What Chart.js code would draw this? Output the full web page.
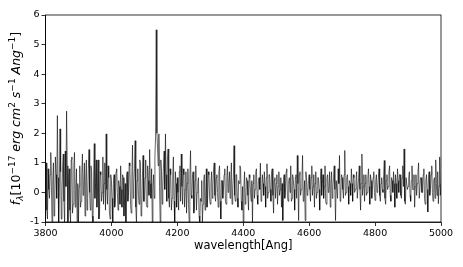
<!DOCTYPE html>
<html>
<head>
<meta charset="utf-8">
<script src="https://cdn.jsdelivr.net/npm/chart.js@4/dist/chart.umd.min.js"></script>
<style>
html,body{margin:0;padding:0;background:#fff;}
#wrap{width:463px;height:267px;}
</style>
</head>
<body>
<div id="wrap"><canvas id="c" width="463" height="267"></canvas></div>
<script>
// Sampling: each segment starts at its wavelength and is sampled every 2 Angstrom
const sampleStep = 2;
const segmentStarts = [3800, 3900, 4000, 4100, 4200, 4300, 4400, 4500, 4600, 4700, 4800, 4900];
// flux values (10^-17 erg cm^2 s^-1 Ang^-1)
const flux3800 = [0.3,1.0,-0.6,-0.9,0.8,0.1,-0.2,0.6,1.35,0.2,-1.1,0.4,1.0,-0.8,-0.5,1.2,0.6,-0.2,2.6,0.5,-1.1,0.3,2.15,0.7,-0.9,-0.1,0.9,1.3,-0.3,-1.1,1.4,0.2,2.75,0.9,-1.1,0.5,0.8,-0.6,-1.0,1.1,1.2,-0.7,-0.4,0.9,1.35,-0.5,0.1,0.8,-1.05,0.3];
const flux3900 = [-1.05,0.2,0.9,-0.5,-0.3,0.6,1.3,-0.1,0.2,1.0,-0.8,0.4,1.1,-0.6,-0.2,0.8,1.45,0.0,-0.6,0.9,0.7,-0.8,-1.05,0.5,1.65,-0.2,0.3,1.1,-0.5,0.2,1.1,-0.9,-0.7,0.7,0.6,-0.3,0.0,1.2,-0.4,0.3,1.0,-0.6,1.98,0.1,-0.4,0.9,0.5,-0.7,-0.9,0.6];
const flux4000 = [0.4,-0.2,-1.05,0.3,0.6,-0.5,-0.3,0.7,0.8,0.0,-0.6,0.4,0.2,-0.4,0.9,0.1,-0.5,0.6,0.5,-0.8,-0.2,0.3,-1.05,0.6,0.7,-0.3,0.0,1.0,0.9,-0.4,-0.7,0.5,1.6,-0.2,0.3,0.8,1.75,-0.5,-1.05,0.4,0.8,-0.1,-0.4,1.1,1.0,-0.8,-0.6,0.5,1.25,-0.3];
const flux4100 = [-0.3,0.5,1.1,-0.4,-0.5,0.9,0.4,-0.1,1.45,0.3,-0.2,0.8,-1.0,0.2,0.6,-0.2,1.2,1.9,5.5,2.0,1.5,0.9,1.98,0.2,-1.0,1.1,0.7,-0.4,0.2,0.9,1.4,0.1,1.98,0.6,-0.3,1.1,1.47,-0.2,-0.5,0.8,0.6,-0.6,-0.2,0.5,1.2,-0.3,-1.0,0.7,0.3,-0.5];
const flux4200 = [0.5,0.0,-0.6,0.7,0.9,-0.3,1.3,0.2,-0.4,0.8,0.6,-0.5,0.1,0.7,-0.7,0.3,0.8,-0.4,-1.0,0.5,1.41,-0.1,-0.2,0.6,0.7,-0.7,-0.5,0.4,0.9,-0.6,0.0,0.3,0.5,-0.8,-1.05,-0.2,-0.3,0.4,-1.0,-0.4,0.4,0.6,-0.6,-0.1,0.8,-0.5,-0.2,0.7,0.6,-0.2];
const flux4300 = [-0.4,0.3,0.7,-0.2,0.2,0.8,1.0,-0.1,-0.3,0.5,0.6,0.0,-0.5,0.7,0.9,-0.3,-0.9,0.4,0.4,-0.2,0.1,0.6,0.8,-0.3,-0.4,0.5,0.9,0.0,0.3,0.7,-0.2,0.4,1.0,-0.4,0.1,0.5,1.58,-0.1,-0.3,0.6,0.6,-0.2,-0.5,0.4,0.3,0.9,0.8,-0.3,-0.6,0.2];
const flux4400 = [-1.0,0.2,0.7,-0.4,-0.2,0.5,0.4,-0.1,-0.6,0.6,0.5,0.0,-0.3,0.4,-1.0,0.3,0.6,-0.2,0.1,0.7,0.8,-0.1,-0.4,0.4,0.5,0.1,0.99,-0.3,-0.2,0.6,0.3,-0.1,0.7,0.2,-0.5,0.5,0.97,-0.2,0.0,0.6,0.6,0.1,-0.3,0.7,0.8,-0.1,-0.7,0.4,0.5,-0.2];
const flux4500 = [0.3,0.6,-0.4,0.2,0.7,-0.1,0.1,0.5,-0.5,0.3,-0.95,0.4,0.6,-0.2,0.0,0.7,0.8,-0.1,-0.3,0.4,0.5,0.0,0.9,-0.3,-0.2,0.6,0.4,0.1,-0.6,0.5,0.6,-0.2,1.25,0.3,-0.95,0.6,0.7,-0.1,0.1,0.5,1.25,-0.3,-0.2,0.4,-0.95,0.7,0.5,-0.1,0.0,0.4];
const flux4600 = [0.6,0.1,-0.3,0.5,0.9,-0.1,0.2,0.6,-0.5,0.3,0.7,-0.2,0.0,0.5,0.5,0.1,-0.6,0.4,0.8,-0.1,0.3,0.6,-0.2,0.2,0.9,-0.3,-0.4,0.5,0.6,0.0,0.1,0.7,-0.5,0.3,0.7,-0.2,0.2,0.5,0.9,0.1,-0.95,0.4,0.4,-0.2,0.8,0.3,1.25,-0.3,-0.1,0.6];
const flux4700 = [0.5,0.1,-0.2,0.6,1.42,-0.1,0.0,0.5,0.6,0.2,-0.4,0.4,0.3,-0.1,0.8,0.3,-0.3,0.6,0.5,0.0,0.1,0.4,0.7,-0.2,-0.2,0.5,0.9,0.1,-0.6,0.3,1.3,-0.1,0.2,0.6,-0.3,0.3,0.6,-0.1,0.0,0.5,0.8,0.2,-0.4,0.6,0.4,-0.2,0.1,0.5,0.7,0.0];
const flux4800 = [-0.27,0.4,0.6,0.0,0.1,0.5,0.8,-0.1,-0.3,0.3,0.5,0.1,0.0,0.6,1.08,-0.2,-0.4,0.4,0.6,0.1,0.2,0.7,0.9,-0.1,-0.3,0.5,0.4,0.0,0.7,0.3,-0.5,0.6,0.3,-0.2,0.8,0.4,0.0,0.6,0.6,-0.1,-0.2,0.5,0.9,0.2,1.47,-0.3,-0.4,0.5,0.5,0.1];
const flux4900 = [0.2,0.5,0.7,-0.1,-0.3,0.4,0.9,0.1,0.1,0.6,-0.5,0.2,0.6,-0.1,0.3,0.7,1.0,-0.2,-0.2,0.5,0.5,0.0,0.0,0.6,0.8,-0.2,-0.4,0.4,0.6,0.1,-0.66,0.5,0.7,-0.1,0.1,0.6,0.9,0.0,-0.3,0.4,0.5,-0.2,1.1,0.3,-0.1,0.7,-0.38,0.2,1.2,-0.1,0.3];
const xTicks = [3800, 4000, 4200, 4400, 4600, 4800, 5000];
const yTicks = [-1, 0, 1, 2, 3, 4, 5, 6];
const xTitle = 'wavelength[Ang]';

const segments = [flux3800, flux3900, flux4000, flux4100, flux4200, flux4300, flux4400, flux4500, flux4600, flux4700, flux4800, flux4900];
const points = [];
segments.forEach((seg, s) => {
  seg.forEach((v, i) => points.push({x: segmentStarts[s] + i * sampleStep, y: v}));
});

const FONT = 'DejaVu Sans';

const framePlugin = {
  id: 'frame',
  afterDraw(chart) {
    const {ctx, chartArea: a} = chart;
    ctx.save();
    ctx.strokeStyle = '#000';
    ctx.lineWidth = 0.8;
    ctx.strokeRect(a.left, a.top, a.right - a.left, a.bottom - a.top);
    // y-axis title with sub/superscripts
    const parts = [
      ['f', 'italic 12.5px', 0],
      ['\u03bb', 'italic 9px', 3.5],
      ['[10', '12.5px', 0],
      ['\u221217', '9px', -4.5],
      [' erg cm', 'italic 12.5px', 0],
      ['2', '9px', -4.5],
      [' s', 'italic 12.5px', 0],
      ['\u22121', '9px', -4.5],
      [' Ang', 'italic 12.5px', 0],
      ['\u22121', '9px', -4.5],
      [']', '12.5px', 0]
    ];
    let total = 0;
    parts.forEach(p => { ctx.font = p[1] + ' "' + FONT + '"'; total += ctx.measureText(p[0]).width; });
    ctx.translate(17, (a.top + a.bottom) / 2);
    ctx.rotate(-Math.PI / 2);
    ctx.fillStyle = '#000';
    ctx.textBaseline = 'middle';
    ctx.textAlign = 'left';
    let xpos = -total / 2;
    parts.forEach(p => {
      ctx.font = p[1] + ' "' + FONT + '"';
      ctx.fillText(p[0], xpos, p[2]);
      xpos += ctx.measureText(p[0]).width;
    });
    ctx.restore();
  }
};

new Chart(document.getElementById('c'), {
  type: 'line',
  data: {
    datasets: [{
      data: points,
      borderColor: '#000',
      borderWidth: 0.6,
      pointRadius: 0,
      tension: 0,
      fill: false
    }]
  },
  options: {
    responsive: false,
    animation: false,
    events: [],
    layout: {padding: {left: 0, right: 22, top: 15, bottom: 14}},
    plugins: {legend: {display: false}, tooltip: {enabled: false}},
    scales: {
      x: {
        type: 'linear',
        min: 3800, max: 5000,
        afterBuildTicks: sc => { sc.ticks = xTicks.map(v => ({value: v})); },
        afterFit: sc => { sc.height = 31; },
        ticks: {color: '#000', font: {family: FONT, size: 9.5}, padding: 2, maxRotation: 0, autoSkip: false, callback: v => String(v)},
        grid: {drawOnChartArea: false, drawTicks: true, tickLength: 4, color: '#000', lineWidth: 0.8},
        border: {display: true, color: '#000', width: 0.8},
        title: {display: true, text: xTitle, color: '#000', font: {family: FONT, size: 11.5}, padding: {top: 0, bottom: 0}}
      },
      y: {
        min: -1, max: 6,
        afterBuildTicks: sc => { sc.ticks = yTicks.map(v => ({value: v})); },
        afterFit: sc => { sc.width = 45.5; },
        ticks: {color: '#000', font: {family: FONT, size: 9.5}, padding: 2, callback: v => String(v)},
        grid: {drawOnChartArea: false, drawTicks: true, tickLength: 4, color: '#000', lineWidth: 0.8},
        border: {display: true, color: '#000', width: 0.8}
      }
    }
  },
  plugins: [framePlugin]
});
</script>
</body>
</html>
